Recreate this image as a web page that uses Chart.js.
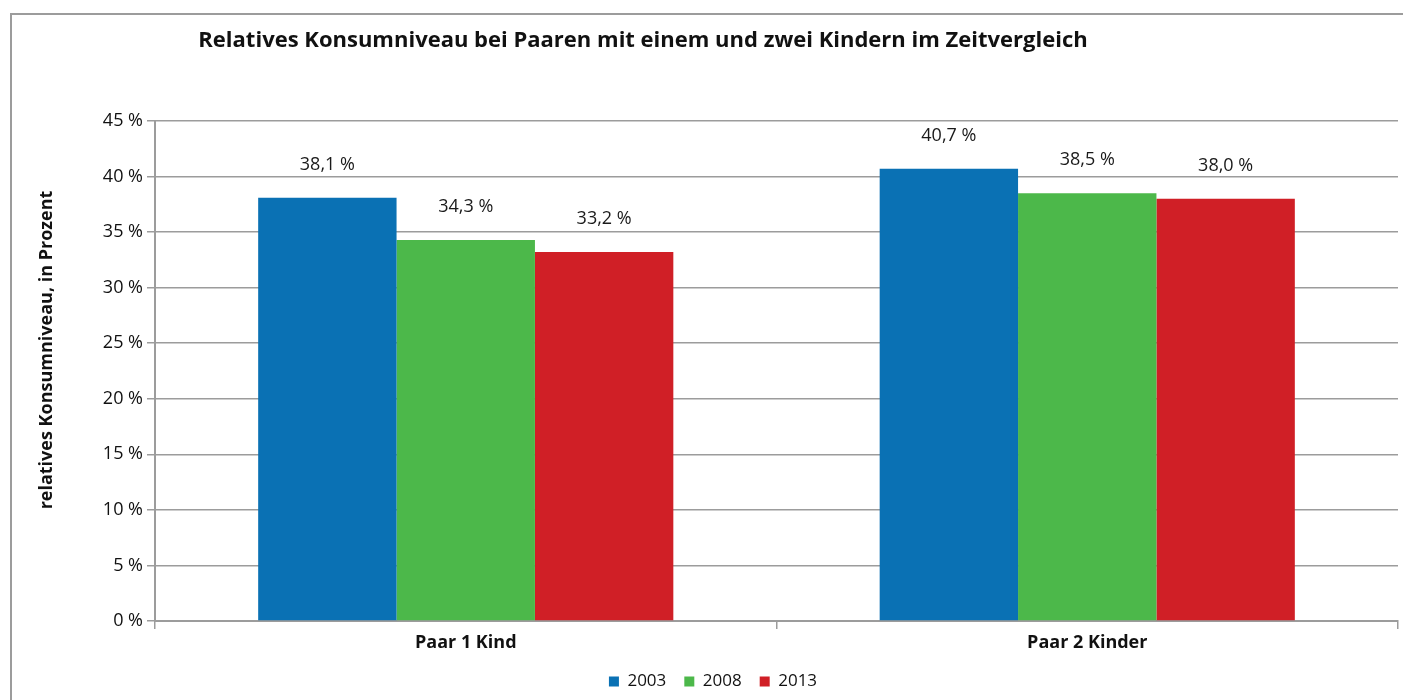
<!DOCTYPE html>
<html lang="de">
<head>
  <meta charset="UTF-8" />
  <title>Relatives Konsumniveau</title>
  <script src="https://cdn.jsdelivr.net/npm/chart.js"></script>
  <style>
    html, body { margin: 0; padding: 0; background: #fff; }
    #wrap { width: 1403px; height: 700px; position: relative; }
  </style>
</head>
<body>
  <div id="wrap"><canvas id="grafik"></canvas></div>

  <script>
    const kategorien = ['Paar 1 Kind', 'Paar 2 Kinder'];
    const jahre = ['2003', '2008', '2013'];
    const werte2003 = [38.1, 40.7];
    const werte2008 = [34.3, 38.5];
    const werte2013 = [33.2, 38.0];
    const farben = ['#0a71b4', '#4cb84a', '#d01f26'];
    const yTicks = [0, 5, 10, 15, 20, 25, 30, 35, 40, 45];
    const titel = 'Relatives Konsumniveau bei Paaren mit einem und zwei Kindern im Zeitvergleich';
    const yTitel = 'relatives Konsumniveau, in Prozent';

    const schrift = '"Open Sans", "Noto Sans", sans-serif';
    const grau = '#9c9c9c';

    function fmt(v) {
      return v.toFixed(1).replace('.', ',') + ' %';
    }

    // Rahmen, Titel und Achsentitel
    const rahmenPlugin = {
      id: 'rahmen',
      beforeDraw(chart) {
        const ctx = chart.ctx;
        ctx.save();
        ctx.strokeStyle = grau;
        ctx.lineWidth = 2;
        ctx.beginPath();
        ctx.moveTo(11, 700);
        ctx.lineTo(11, 14);
        ctx.lineTo(1403, 14);
        ctx.stroke();
        ctx.fillStyle = '#111';
        ctx.font = 'bold 22px ' + schrift;
        ctx.textAlign = 'center';
        ctx.textBaseline = 'middle';
        ctx.fillText(titel, 643, 41);

        ctx.translate(47, 350);
        ctx.rotate(-Math.PI / 2);
        ctx.font = 'bold 18px ' + schrift;
        ctx.fillText(yTitel, 0, 0);
        ctx.restore();
      }
    };

    // Werte über den Balken
    const wertePlugin = {
      id: 'werte',
      afterDatasetsDraw(chart) {
        const ctx = chart.ctx;
        ctx.save();
        ctx.fillStyle = '#1a1a1a';
        ctx.font = '18px ' + schrift;
        ctx.textAlign = 'center';
        ctx.textBaseline = 'alphabetic';
        chart.data.datasets.forEach((ds, i) => {
          chart.getDatasetMeta(i).data.forEach((bar, j) => {
            ctx.fillText(fmt(ds.data[j]), bar.x, bar.y - 28);
          });
        });
        ctx.restore();
      }
    };

    const datasets = [werte2003, werte2008, werte2013].map((d, i) => ({
      label: jahre[i],
      data: d,
      backgroundColor: farben[i],
      borderWidth: 0,
      categoryPercentage: 0.668,
      barPercentage: 1.0
    }));

    new Chart(document.getElementById('grafik'), {
      type: 'bar',
      data: { labels: kategorien, datasets },
      options: {
        responsive: true,
        maintainAspectRatio: false,
        animation: false,
        layout: { padding: { top: 121, right: 5, left: 28, bottom: 0 } },
        plugins: {
          title: { display: false },
          tooltip: { enabled: false },
          legend: {
            position: 'bottom',
            labels: {
              boxWidth: 10,
              boxHeight: 10,
              padding: 18,
              color: '#111',
              font: { family: schrift, size: 17 }
            }
          }
        },
        scales: {
          x: {
            afterFit(s) { s.height = 34; },
            grid: {
              offset: true,
              drawOnChartArea: false,
              drawTicks: true,
              tickLength: 8,
              color: grau,
              lineWidth: 1.5
            },
            border: { color: grau, width: 2 },
            ticks: {
              color: '#111',
              padding: 3,
              font: { family: schrift, size: 18, weight: 'bold' }
            }
          },
          y: {
            min: 0,
            max: 45,
            afterFit(s) { s.width = 127; },
            afterBuildTicks(s) { s.ticks = yTicks.map(v => ({ value: v })); },
            grid: {
              color: grau,
              lineWidth: 1.5,
              tickLength: 8
            },
            border: { color: grau, width: 2 },
            ticks: {
              color: '#111',
              padding: 4,
              font: { family: schrift, size: 18 },
              callback: v => v + ' %'
            }
          }
        }
      },
      plugins: [rahmenPlugin, wertePlugin]
    });
  </script>
</body>
</html>
